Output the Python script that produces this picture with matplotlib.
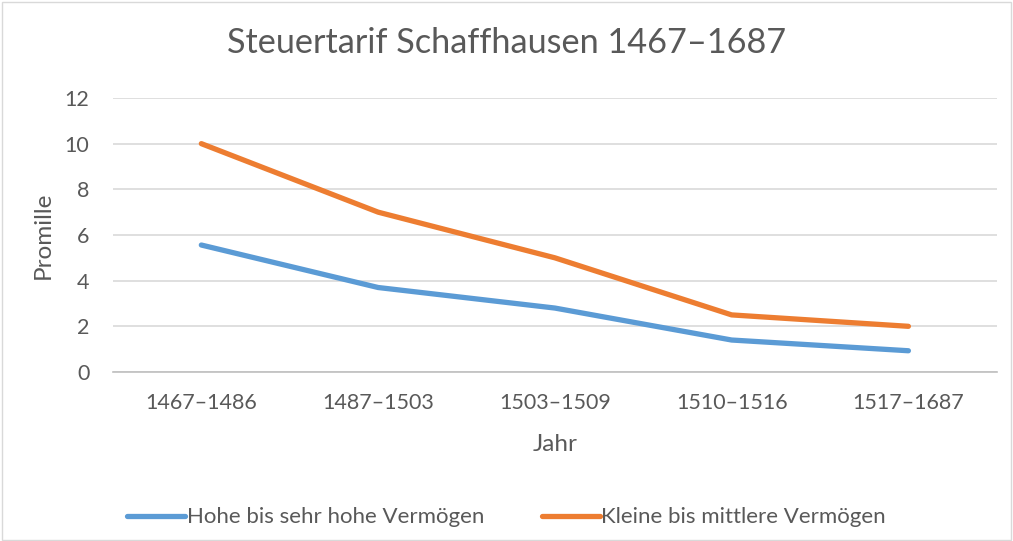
import matplotlib
matplotlib.use("Agg")
import matplotlib.pyplot as plt
from matplotlib.patches import Rectangle

# data
jahre = ["1467–1486", "1487–1503", "1503–1509", "1510–1516", "1517–1687"]
hohe = [5.56, 3.7, 2.8, 1.4, 0.93]
kleine = [10.0, 7.0, 5.0, 2.5, 2.0]
y_ticks = [0, 2, 4, 6, 8, 10, 12]

text_col = "#595959"
plt.rcParams["font.family"] = ["Lato", "DejaVu Sans"]

fig = plt.figure(figsize=(10.13, 5.41), dpi=100)
ax = fig.add_axes([0.1115, 0.3124, 0.8725, 0.5065])

x = list(range(len(jahre)))
ax.plot(x, hohe, color="#5b9bd5", lw=3.8, solid_capstyle="round",
        solid_joinstyle="round", label="Hohe bis sehr hohe Vermögen")
ax.plot(x, kleine, color="#ed7d31", lw=3.8, solid_capstyle="round",
        solid_joinstyle="round", label="Kleine bis mittlere Vermögen")

ax.set_xlim(-0.5, len(jahre) - 0.5)
ax.set_ylim(0, 12)
ax.set_yticks(y_ticks)
ax.set_xticks(x)
ax.set_xticklabels(jahre)
ax.grid(axis="y", color="#d9d9d9", lw=1.2)
ax.set_axisbelow(True)
for s in ["top", "right", "left"]:
    ax.spines[s].set_visible(False)
ax.spines["bottom"].set_color("#bfbfbf")
ax.spines["bottom"].set_linewidth(1.2)
ax.tick_params(axis="both", length=0, colors=text_col, labelsize=15.5)
ax.tick_params(axis="x", pad=15)
ax.tick_params(axis="y", pad=17)

ax.set_ylabel("Promille", color=text_col, fontsize=17.5, labelpad=8)
ax.set_xlabel("Jahr", color=text_col, fontsize=17.5, labelpad=15)

fig.suptitle("Steuertarif Schaffhausen 1467–1687", color=text_col,
             fontsize=24.7, y=0.95)

fig.legend(loc="lower center", ncol=2, frameon=False, fontsize=16,
           labelcolor=text_col, handlelength=2.6, handletextpad=0.08,
           columnspacing=2.6, bbox_to_anchor=(0.5, -0.012))

fig.patches.append(Rectangle((0.002, 0.002), 0.996, 0.994, transform=fig.transFigure,
                             fill=False, edgecolor="#d9d9d9", lw=1))

fig.savefig("out.png", dpi=100)
